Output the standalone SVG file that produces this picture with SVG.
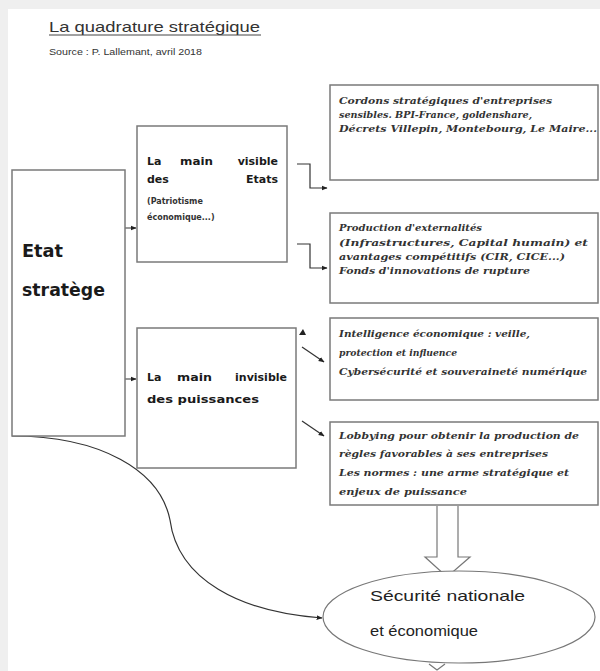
<svg xmlns="http://www.w3.org/2000/svg" width="600" height="671" viewBox="0 0 600 671">
<style>
.box{fill:#fff;stroke:#7a7a7a;stroke-width:1.5}
.ln{fill:none;stroke:#333;stroke-width:1.2}
.hd{font-family:"DejaVu Sans",sans-serif;font-weight:bold;font-size:11px;fill:#1a1a1a}
.sm{font-family:"DejaVu Sans",sans-serif;font-weight:bold;font-size:8px;fill:#333}
.it{font-family:"DejaVu Serif",serif;font-style:italic;font-weight:bold;font-size:10px;fill:#333}
.big{font-family:"DejaVu Sans",sans-serif;font-weight:bold;font-size:17px;fill:#1a1a1a}
.ttl{font-family:"Liberation Sans",sans-serif;fill:#333}
</style>
<defs>
<marker id="ah" viewBox="0 0 10 10" refX="9" refY="5" markerWidth="6" markerHeight="6" orient="auto" markerUnits="userSpaceOnUse">
<path d="M0,1 L10,5 L0,9 z" fill="#222"/>
</marker>
</defs>
<rect x="0" y="0" width="600" height="671" fill="#efefef"/>
<rect x="8" y="9" width="592" height="662" fill="#fff"/>

<g id="title">
<text class="ttl" x="49" y="32" font-size="15" textLength="211" lengthAdjust="spacingAndGlyphs">La quadrature stratégique</text>
<line x1="49" y1="35" x2="261" y2="35" stroke="#444" stroke-width="1"/>
<text class="ttl" x="49" y="55" font-size="9.5" textLength="153" lengthAdjust="spacingAndGlyphs">Source : P. Lallemant, avril 2018</text>
</g>

<g id="connectors">
<line class="ln" x1="95" y1="228" x2="136" y2="228" marker-end="url(#ah)"/>
<line class="ln" x1="95" y1="379" x2="136" y2="379" marker-end="url(#ah)"/>
<path class="ln" d="M297 164 H310 V188 H327" marker-end="url(#ah)"/>
<path class="ln" d="M297 244 H310 V268 H327" marker-end="url(#ah)"/>
<path d="M299 335 L303 329 L306 335 z" fill="#222"/>
<line class="ln" x1="302" y1="347" x2="324" y2="362" marker-end="url(#ah)"/>
<line class="ln" x1="302" y1="421" x2="324" y2="436" marker-end="url(#ah)"/>
<path class="ln" d="M12 436 C100 436 160 470 170 520 C178 580 240 612 322 618" marker-end="url(#ah)"/>
<path d="M437 506 V557 H425 L447 577 L470 557 H458 V506" fill="#fff" stroke="#777" stroke-width="1.2"/>
<path d="M429 664 L437 670 L445 664" fill="none" stroke="#777" stroke-width="1.2"/>
</g>

<g id="etat">
<rect class="box" x="12" y="170" width="113" height="266"/>
<text class="big" x="22" y="257" textLength="41" lengthAdjust="spacingAndGlyphs">Etat</text>
<text class="big" x="22" y="296" textLength="83" lengthAdjust="spacingAndGlyphs">stratège</text>
</g>

<g id="main-visible">
<rect class="box" x="137" y="126" width="150" height="136"/>
<text class="hd" x="147" y="165">La</text>
<text class="hd" x="180" y="165" textLength="33" lengthAdjust="spacingAndGlyphs">main</text>
<text class="hd" x="278" y="165" text-anchor="end">visible</text>
<text class="hd" x="147" y="183">des</text>
<text class="hd" x="278" y="183" text-anchor="end">Etats</text>
<text class="sm" x="147" y="204">(Patriotisme</text>
<text class="sm" x="147" y="220">économique...)</text>
</g>

<g id="main-invisible">
<rect class="box" x="137" y="328" width="159" height="140"/>
<text class="hd" x="147" y="381">La</text>
<text class="hd" x="177" y="381" textLength="35" lengthAdjust="spacingAndGlyphs">main</text>
<text class="hd" x="287" y="381" text-anchor="end">invisible</text>
<text class="hd" x="147" y="403" textLength="112" lengthAdjust="spacingAndGlyphs">des puissances</text>
</g>

<g id="box-cordons">
<rect class="box" x="330" y="85" width="268" height="95"/>
<text class="it" x="339" y="104" textLength="213" lengthAdjust="spacingAndGlyphs">Cordons stratégiques d'entreprises</text>
<text class="it" x="339" y="118" textLength="193" lengthAdjust="spacingAndGlyphs">sensibles. BPI-France, goldenshare,</text>
<text class="it" x="339" y="132" textLength="258" lengthAdjust="spacingAndGlyphs">Décrets Villepin, Montebourg, Le Maire...</text>
</g>

<g id="box-production">
<rect class="box" x="330" y="213" width="268" height="90"/>
<text class="it" x="339" y="231" textLength="143" lengthAdjust="spacingAndGlyphs">Production d'externalités</text>
<text class="it" x="339" y="246" textLength="249" lengthAdjust="spacingAndGlyphs">(Infrastructures, Capital humain) et</text>
<text class="it" x="339" y="260" textLength="226" lengthAdjust="spacingAndGlyphs">avantages compétitifs (CIR, CICE...)</text>
<text class="it" x="339" y="274" textLength="191" lengthAdjust="spacingAndGlyphs">Fonds d'innovations de rupture</text>
</g>

<g id="box-intelligence">
<rect class="box" x="330" y="318" width="268" height="82"/>
<text class="it" x="339" y="337" textLength="191" lengthAdjust="spacingAndGlyphs">Intelligence économique : veille,</text>
<text class="it" x="339" y="356" textLength="118" lengthAdjust="spacingAndGlyphs">protection et influence</text>
<text class="it" x="339" y="375" textLength="248" lengthAdjust="spacingAndGlyphs">Cybersécurité et souveraineté numérique</text>
</g>

<g id="box-lobbying">
<rect class="box" x="330" y="422" width="268" height="83"/>
<text class="it" x="339" y="439" textLength="240" lengthAdjust="spacingAndGlyphs">Lobbying pour obtenir la production de</text>
<text class="it" x="339" y="457" textLength="209" lengthAdjust="spacingAndGlyphs">règles favorables à ses entreprises</text>
<text class="it" x="339" y="476" textLength="230" lengthAdjust="spacingAndGlyphs">Les normes : une arme stratégique et</text>
<text class="it" x="339" y="495" textLength="128" lengthAdjust="spacingAndGlyphs">enjeux de puissance</text>
</g>

<g id="securite">
<ellipse cx="459" cy="617" rx="136" ry="46" fill="#fff" stroke="#777" stroke-width="1.2"/>
<text x="370" y="601" font-family="'Liberation Sans',sans-serif" font-size="15" fill="#222" textLength="155" lengthAdjust="spacingAndGlyphs">Sécurité nationale</text>
<text x="370" y="636" font-family="'Liberation Sans',sans-serif" font-size="15" fill="#222" textLength="108" lengthAdjust="spacingAndGlyphs">et économique</text>
</g>
</svg>
